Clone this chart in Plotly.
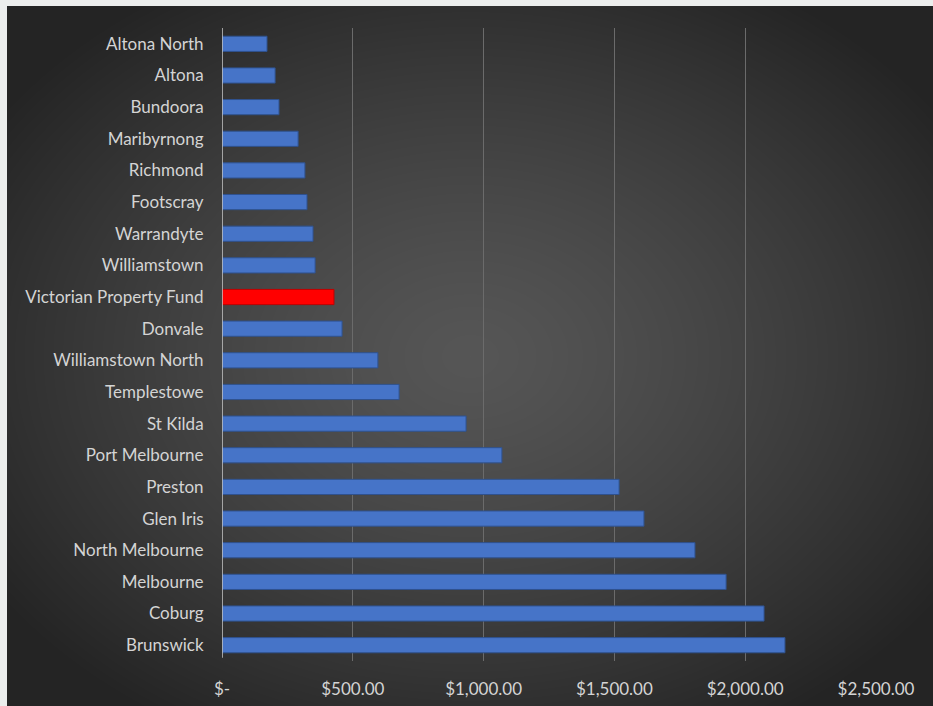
import base64
import struct
import zlib

import numpy as np
import plotly.graph_objects as go

# Suburbs (top to bottom) and their values
suburbs = [
    "Altona North", "Altona", "Bundoora", "Maribyrnong", "Richmond",
    "Footscray", "Warrandyte", "Williamstown", "Victorian Property Fund",
    "Donvale", "Williamstown North", "Templestowe", "St Kilda",
    "Port Melbourne", "Preston", "Glen Iris", "North Melbourne",
    "Melbourne", "Coburg", "Brunswick",
]
values = [
    172, 203, 218, 291, 317,
    325, 348, 356, 428,
    459, 596, 677, 933,
    1070, 1518, 1613, 1808,
    1927, 2072, 2152,
]
highlight = "Victorian Property Fund"

tick_values = [0, 500, 1000, 1500, 2000, 2500]
tick_labels = ["$-", "$500.00", "$1,000.00", "$1,500.00", "$2,000.00", "$2,500.00"]

W, H = 933, 706
ML, MR, MT, MB = 222, 57, 28, 45
PW, PH = W - ML - MR, H - MT - MB


def radial_png(w, h, inner=86, outer=36):
    """Grayscale PNG with a soft radial fade from the centre outwards."""
    yy, xx = np.mgrid[0:h, 0:w].astype(float)
    cx, cy = w * 0.50, h * 0.50
    r = np.sqrt(((xx - cx) / (w * 0.62)) ** 2 + ((yy - cy) / (h * 0.62)) ** 2)
    r = np.clip(r, 0, 1)
    img = inner - (inner - outer) * r ** 1.3
    img = np.clip(img, 0, 255).astype(np.uint8)
    raw = b"".join(b"\x00" + img[i].tobytes() for i in range(h))

    def chunk(tag, data):
        c = struct.pack(">I", len(data)) + tag + data
        return c + struct.pack(">I", zlib.crc32(tag + data) & 0xFFFFFFFF)

    png = b"\x89PNG\r\n\x1a\n"
    png += chunk(b"IHDR", struct.pack(">IIBBBBB", w, h, 8, 0, 0, 0, 0))
    png += chunk(b"IDAT", zlib.compress(raw, 9))
    png += chunk(b"IEND", b"")
    return "data:image/png;base64," + base64.b64encode(png).decode()


bg_x0, bg_y0 = 7, 6
bg_w, bg_h = W - bg_x0, H - bg_y0

colors = ["#ff0000" if s == highlight else "#4674c8" for s in suburbs]
lines = ["#c00000" if s == highlight else "#2f528f" for s in suburbs]

fig = go.Figure(
    go.Bar(
        x=values,
        y=suburbs,
        orientation="h",
        width=0.48,
        marker=dict(color=colors, line=dict(color=lines, width=1)),
        hovertemplate="%{y}: $%{x:,.2f}<extra></extra>",
    )
)

font = dict(family="Lato, 'Open Sans', sans-serif", size=17, color="#d4d4d4")

fig.update_layout(
    width=W,
    height=H,
    margin=dict(l=ML, r=MR, t=MT, b=MB, autoexpand=False),
    paper_bgcolor="#eceeed",
    plot_bgcolor="rgba(0,0,0,0)",
    showlegend=False,
    font=font,
    images=[
        dict(
            source=radial_png(bg_w, bg_h),
            xref="paper", yref="paper",
            x=(bg_x0 - ML) / PW, y=(H - MB - bg_y0) / PH,
            sizex=bg_w / PW, sizey=bg_h / PH,
            xanchor="left", yanchor="top",
            sizing="stretch", layer="below",
        )
    ],
    xaxis=dict(
        range=[0, 2500],
        tickvals=tick_values,
        ticktext=tick_labels,
        showgrid=True,
        gridcolor="#6b6b6b",
        gridwidth=1,
        zeroline=False,
        showline=False,
        ticks="outside",
        ticklen=13,
        tickcolor="rgba(0,0,0,0)",
        tickfont=font,
        automargin=False,
        fixedrange=True,
    ),
    yaxis=dict(
        categoryorder="array",
        categoryarray=suburbs[::-1],
        range=[-0.5, len(suburbs) - 0.5],
        showgrid=False,
        zeroline=False,
        showline=False,
        ticks="outside",
        ticklen=14,
        tickcolor="rgba(0,0,0,0)",
        tickfont=font,
        automargin=False,
        fixedrange=True,
    ),
    shapes=[
        dict(
            type="line", xref="x", yref="paper",
            x0=0, x1=0, y0=0.005, y1=1,
            line=dict(color="#c8c8c8", width=1.5),
            layer="above",
        )
    ],
)

fig.write_html("out.html")
